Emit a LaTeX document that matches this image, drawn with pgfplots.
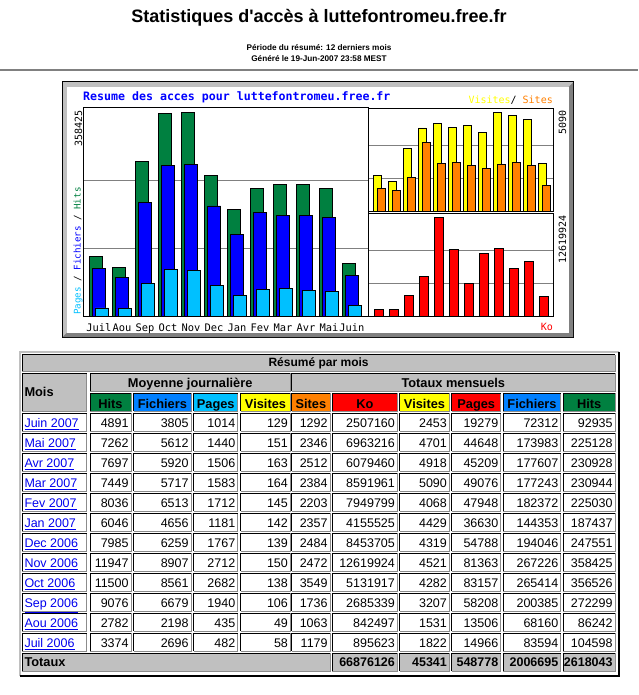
\documentclass[border=0pt]{standalone}
\usepackage{pgfplots}
\pgfplotsset{compat=1.18}
\usepackage{fontspec}
\setmainfont{Liberation Sans}
\setmonofont{DejaVu Sans Mono}
\definecolor{hgreen}{HTML}{008040}
\definecolor{fblue}{HTML}{0000FF}
\definecolor{fblueT}{HTML}{0080FF}
\definecolor{pcyan}{HTML}{00C0FF}
\definecolor{vyellow}{HTML}{FFFF00}
\definecolor{sorange}{HTML}{FF8000}
\definecolor{kred}{HTML}{FF0000}
\definecolor{tgray}{HTML}{C0C0C0}
\definecolor{dgray}{HTML}{808080}
\definecolor{linkblue}{HTML}{0000EE}
\newcommand\mono[1]{\ttfamily\fontsize{#1}{#1}\selectfont}
\newcommand\sz[1]{\fontsize{#1}{#1}\selectfont}
% cell: x1 y1 x2 y2 fill  (y downward)
\newcommand\cell[5]{%
  \fill[#5] (#1,#2) rectangle (#3,#4);
  \draw[line width=0.8pt, black!45] (#1,#4) -- (#3,#4) -- (#3,#2);
  \draw[line width=0.8pt, black] (#1,#4) -- (#1,#2) -- (#3,#2);}
\newcommand\dc[3]{\cell{#1}{\yt}{#2}{\yb}{white}\node[num] at ({#2-2.2},\yl) {#3};}
\newcommand\tc[3]{\cell{#1}{653}{#2}{671}{tgray}\node[num,font=\bfseries\sz{12.5}] at ({#2-2.2},666.7) {#3};}
\newcommand\hc[4]{\cell{#1}{393}{#2}{411}{#3}\node[hd] at ({(#1+#2)/2},408) {#4};}
\pgfplotsset{wstyle/.style={scale only axis, anchor=south west, ybar, ymin=0,
  axis line style={line width=1pt}, major tick length=0pt, yticklabels={},
  scaled y ticks=false, ymajorgrids, major grid style={dgray, line width=1pt},
  every axis plot/.append style={draw=black, line width=0.9pt}}}
\begin{document}
\begin{tikzpicture}[x=1pt,y=-1pt,
  num/.style={anchor=base east, inner sep=0, font=\sz{12.5}},
  hd/.style={anchor=base, inner sep=0, font=\bfseries\sz{12.8}}]
\useasboundingbox (0,0) rectangle (638,695);
\fill[white] (0,0) rectangle (638,695);
% ---------- page header ----------
\node[anchor=base, inner sep=0, font=\bfseries\sz{18}] at (319,23) {Statistiques d\textquotesingle accès à luttefontromeu.free.fr};
\node[anchor=base, inner sep=0, font=\bfseries\sz{8.2}] at (319,51) {Période du résumé: 12 derniers mois};
\node[anchor=base, inner sep=0, font=\bfseries\sz{8.2}] at (319,62) {Généré le 19-Jun-2007 23:58 MEST};
\draw[dgray, line width=1.5pt] (0,70) -- (638,70);
% ---------- chart frame ----------
\fill[black] (61.5,81.5) rectangle (574,338);
\fill[tgray] (62.5,82.5) rectangle (573,337);
\fill[dgray] (573,82.5) -- (573,337) -- (62.5,337) -- (67,332.5) -- (568.5,332.5) -- (568.5,87) -- cycle;
\fill[white] (67,87) rectangle (568.5,332.5);
\node[anchor=base west, inner sep=0, text=fblue, font=\mono{11.6}\bfseries] at (83,101) {Resume des acces pour luttefontromeu.free.fr};
\node[rotate=90, anchor=base east, inner sep=0, font=\mono{10}] at (82,110) {358425};
\node[rotate=90, anchor=base west, inner sep=0, font=\mono{9.2}] at (80.5,315) {{\color{pcyan}Pages} / {\color{fblue}Fichiers} / {\color{hgreen}Hits}};
\node[rotate=90, anchor=base east, inner sep=0, font=\mono{10}] at (566,110) {5090};
\node[rotate=90, anchor=base east, inner sep=0, font=\mono{10}] at (566,215) {12619924};
\node[anchor=base east, inner sep=0, font=\mono{10}] at (553,104) {{\color{vyellow}Visites}/ {\color{sorange}Sites}};
\node[anchor=base east, inner sep=0, font=\mono{10}, text=kred] at (553,330) {Ko};
% ---------- left chart: Hits / Fichiers / Pages ----------
\begin{axis}[wstyle, at={(83pt,-316.5pt)}, width=285pt, height=208.5pt,
  xmin=-0.563, xmax=11.828, ymax=366000, bar width=13.3pt,
  ytick={119475,238950},
  xtick={0,...,11}, xticklabels={Juil,Aou,Sep,Oct,Nov,Dec,Jan,Fev,Mar,Avr,Mai,Juin},
  xticklabel style={font=\mono{10.4}, anchor=base, yshift=-15pt, xshift=3pt, inner sep=0pt}]
\addplot[fill=hgreen, bar shift=0pt] coordinates {(0,104598)(1,86242)(2,272299)(3,356526)(4,358425)(5,247551)(6,187437)(7,225030)(8,230944)(9,230928)(10,225128)(11,92935)};
\addplot[fill=fblue, bar shift=3pt] coordinates {(0,83594)(1,68160)(2,200385)(3,265414)(4,267226)(5,194046)(6,144353)(7,182372)(8,177243)(9,177607)(10,173983)(11,72312)};
\addplot[fill=pcyan, bar shift=6pt] coordinates {(0,14966)(1,13506)(2,58208)(3,83157)(4,81363)(5,54788)(6,36630)(7,47948)(8,49076)(9,45209)(10,44648)(11,19279)};
\end{axis}
% ---------- right top: Visites / Sites ----------
\begin{axis}[wstyle, at={(368pt,-211pt)}, width=185.5pt, height=103pt,
  xmin=-0.62, xmax=11.747, ymax=5312, bar width=8pt,
  ytick={1697,3393}, xtick=\empty]
\addplot[fill=vyellow, bar shift=0pt] coordinates {(0,1822)(1,1531)(2,3207)(3,4282)(4,4521)(5,4319)(6,4429)(7,4068)(8,5090)(9,4918)(10,4701)(11,2453)};
\addplot[fill=sorange, bar shift=4pt] coordinates {(0,1179)(1,1063)(2,1736)(3,3549)(4,2472)(5,2484)(6,2357)(7,2203)(8,2384)(9,2512)(10,2346)(11,1292)};
\end{axis}
% ---------- right bottom: Ko ----------
\begin{axis}[wstyle, at={(368pt,-316.5pt)}, width=185.5pt, height=103pt,
  xmin=-0.62, xmax=11.747, ymax=13064000, bar width=9pt,
  ytick={4206641,8413283}, xtick=\empty]
\addplot[fill=kred, bar shift=1.5pt] coordinates {(0,895623)(1,842497)(2,2685339)(3,5131917)(4,12619924)(5,8453705)(6,4155525)(7,7949799)(8,8591961)(9,6079460)(10,6963216)(11,2507160)};
\end{axis}
% ---------- table ----------
\draw[tgray, line width=2pt] (20,676) -- (20,352) -- (619,352);
\draw[black, line width=2pt] (619,352) -- (619,676) -- (20,676);
\cell{22.3}{354.5}{615}{371}{tgray}
\node[anchor=base, inner sep=0, font=\bfseries\sz{12}] at (318.6,366.5) {Résumé par mois};
\cell{22.3}{373.3}{86.7}{411}{tgray}
\node[anchor=base west, inner sep=0, font=\bfseries\sz{12.8}] at (24.3,396.7) {Mois};
\cell{90}{373.3}{290.3}{391}{tgray}
\node[hd] at (190.2,387.5) {Moyenne journalière};
\cell{291.7}{373.3}{615}{391}{tgray}
\node[hd] at (453.3,387.5) {Totaux mensuels};
\hc{90}{131}{hgreen}{Hits}
\hc{133.7}{191}{fblueT}{Fichiers}
\hc{193.7}{237.7}{pcyan}{Pages}
\hc{240.7}{290.3}{vyellow}{Visites}
\hc{291.7}{330}{sorange}{Sites}
\hc{332.3}{397.3}{kred}{Ko}
\hc{399.7}{449.3}{vyellow}{Visites}
\hc{451.7}{500.7}{kred}{Pages}
\hc{503.3}{560.7}{fblueT}{Fichiers}
\hc{563.3}{615}{hgreen}{Hits}
\foreach \lab/\qa/\qb/\qc/\qd/\qe/\qf/\qg/\qh/\qj/\qk [count=\k from 0] in {
Juin 2007/4891/3805/1014/129/1292/2507160/2453/19279/72312/92935,
Mai 2007/7262/5612/1440/151/2346/6963216/4701/44648/173983/225128,
Avr 2007/7697/5920/1506/163/2512/6079460/4918/45209/177607/230928,
Mar 2007/7449/5717/1583/164/2384/8591961/5090/49076/177243/230944,
Fev 2007/8036/6513/1712/145/2203/7949799/4068/47948/182372/225030,
Jan 2007/6046/4656/1181/142/2357/4155525/4429/36630/144353/187437,
Dec 2006/7985/6259/1767/139/2484/8453705/4319/54788/194046/247551,
Nov 2006/11947/8907/2712/150/2472/12619924/4521/81363/267226/358425,
Oct 2006/11500/8561/2682/138/3549/5131917/4282/83157/265414/356526,
Sep 2006/9076/6679/1940/106/1736/2685339/3207/58208/200385/272299,
Aou 2006/2782/2198/435/49/1063/842497/1531/13506/68160/86242,
Juil 2006/3374/2696/482/58/1179/895623/1822/14966/83594/104598}{
  \pgfmathsetmacro\yt{413+20*\k}
  \pgfmathsetmacro\yb{\yt+18}
  \pgfmathsetmacro\yl{\yt+14.7}
  \cell{22.3}{\yt}{86.7}{\yb}{white}
  \node[anchor=base west, inner sep=0, text=linkblue, font=\sz{12.5}] at (24.3,\yl) {\underline{\lab}};
  \dc{90}{131}{\qa}
  \dc{133.7}{191}{\qb}
  \dc{193.7}{237.7}{\qc}
  \dc{240.7}{290.3}{\qd}
  \dc{291.7}{330}{\qe}
  \dc{332.3}{397.3}{\qf}
  \dc{399.7}{449.3}{\qg}
  \dc{451.7}{500.7}{\qh}
  \dc{503.3}{560.7}{\qj}
  \dc{563.3}{615}{\qk}
}
\cell{22.3}{653}{330}{671}{tgray}
\node[anchor=base west, inner sep=0, font=\bfseries\sz{12.8}] at (24.3,666.7) {Totaux};
\tc{332.3}{397.3}{66876126}
\tc{399.7}{449.3}{45341}
\tc{451.7}{500.7}{548778}
\tc{503.3}{560.7}{2006695}
\tc{563.3}{615}{2618043}
\end{tikzpicture}
\end{document}
